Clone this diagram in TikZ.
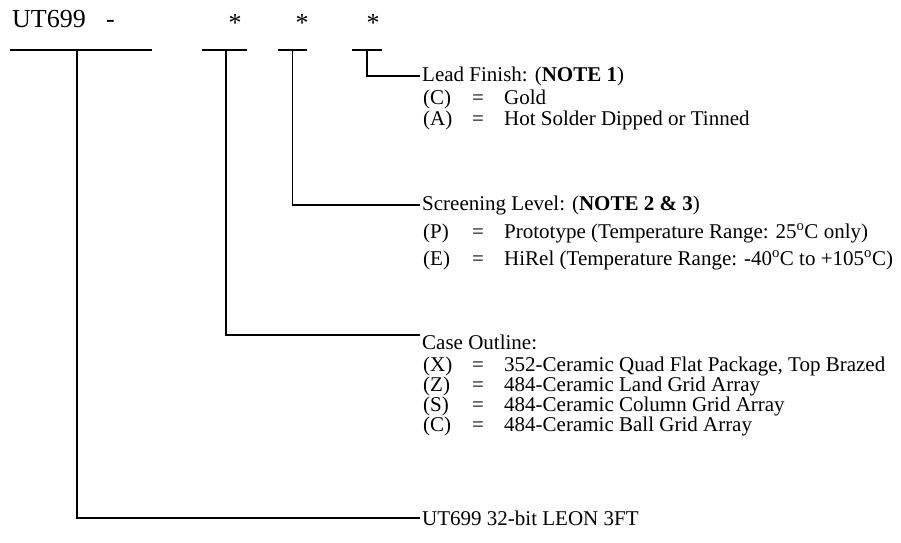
\documentclass[tikz,border=0pt]{standalone}
\usepackage{fontspec}
\setmainfont{Liberation Serif}
\usetikzlibrary{positioning}

\tikzset{
  wire/.style={line width=1.8pt},
  thinwire/.style={line width=0.9pt},
  txt/.style={inner xsep=2pt,inner ysep=0pt,font=\fontsize{21}{24}\selectfont},
  row/.style={txt,inner xsep=0pt,anchor=base west},
  big/.style={inner sep=0pt,font=\fontsize{26}{30}\selectfont,anchor=base west}
}

\begin{document}
\begin{tikzpicture}[x=1pt,y=-1pt]
    \useasboundingbox (0,0) rectangle (901,542);
    % part number and its fields
    \node[big] (pn) at (12,27.5) {UT699};
    \node[big] (dash) at (106,27.5) {-};
    \foreach \n/\x in {case/235,scr/302,lead/373}{
      \node[big,anchor=base] (s\n) at (\x,31) {*};
    }
    \foreach \n/\a/\b/\c in {dev/10/152/77,case/202/247/226,scr/278/307/292,lead/352/382/367}{
      \draw[wire] (\a,50) -- (\b,50);
      \coordinate (b\n) at (\c,50);
    }
    % field labels
    \node[txt,anchor=west] (lead) at (420,76) {Lead Finish: (\textbf{NOTE 1})};
    \node[txt,anchor=west] (scr) at (420,205) {Screening Level: (\textbf{NOTE 2 \& 3})};
    \node[txt,anchor=north west] (case) at (420,335) {Case Outline:};
    \node[txt,anchor=west] (dev) at (420,518) {UT699 32-bit LEON 3FT};
    % options
    \foreach \c/\y/\t in {C/104/Gold,A/125/{Hot Solder Dipped or Tinned}}{
      \node[row] (lead\c) at (423,\y) {(\c)};
      \node[row] (lead\c-eq) at (472,\y) {=};
      \node[row] (lead\c-d) at (504,\y) {\t};
    }
    \foreach \c/\y/\t in {P/238/{Prototype (Temperature Range: 25\textsuperscript{o}C only)},
                          E/265/{HiRel (Temperature Range: -40\textsuperscript{o}C to +105\textsuperscript{o}C)}}{
      \node[row] (scr\c) at (423,\y) {(\c)};
      \node[row] (scr\c-eq) at (472,\y) {=};
      \node[row] (scr\c-d) at (504,\y) {\t};
    }
    \foreach \c/\y/\t in {X/371/{352-Ceramic Quad Flat Package, Top Brazed},
                          Z/391/{484-Ceramic Land Grid Array},
                          S/411/{484-Ceramic Column Grid Array},
                          C/431/{484-Ceramic Ball Grid Array}}{
      \node[row] (case\c) at (423,\y) {(\c)};
      \node[row] (case\c-eq) at (472,\y) {=};
      \node[row] (case\c-d) at (504,\y) {\t};
    }
    % connectors
    \draw[wire] (blead) |- (lead.west);
    \draw[thinwire] (bscr) -- (bscr |- scr.west);
    \draw[wire] (bscr |- scr.west) -- (scr.west);
    \draw[wire] (bcase) |- (case.north west);
    \draw[wire] (bdev) |- (dev.west);
\end{tikzpicture}
\end{document}
